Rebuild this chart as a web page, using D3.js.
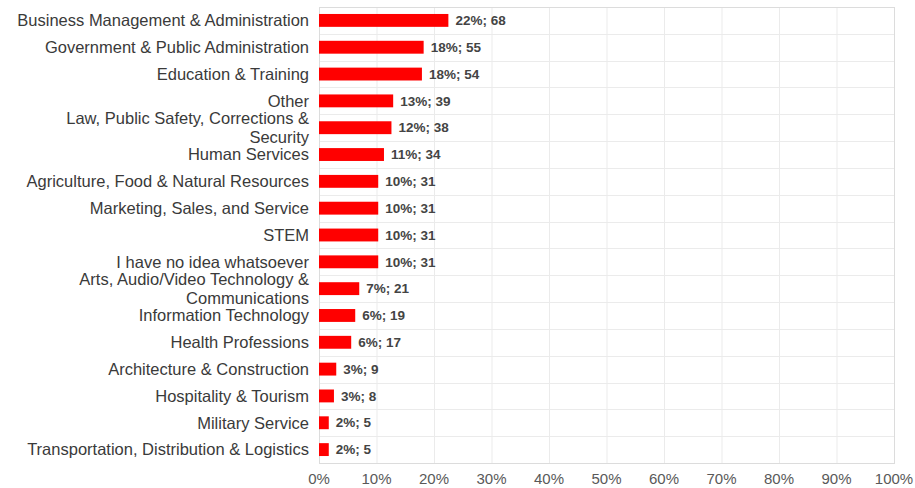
<!DOCTYPE html>
<html>
<head>
<meta charset="utf-8">
<script src="https://cdn.jsdelivr.net/npm/d3@7"></script>
<style>
  body { margin: 0; background: #fff; }
  svg { display: block; font-family: "Liberation Sans", Arial, sans-serif; }
</style>
</head>
<body>
<svg id="chart" width="915" height="488"></svg>
<script>
// categories, top to bottom
var categories = [
  "Business Management & Administration",
  "Government & Public Administration",
  "Education & Training",
  "Other",
  "Law, Public Safety, Corrections & Security",
  "Human Services",
  "Agriculture, Food & Natural Resources",
  "Marketing, Sales, and Service",
  "STEM",
  "I have no idea whatsoever",
  "Arts, Audio/Video Technology & Communications",
  "Information Technology",
  "Health Professions",
  "Architecture & Construction",
  "Hospitality & Tourism",
  "Military Service",
  "Transportation, Distribution & Logistics"
];
// share of respondents (bar length, %)
var shares = [22.5, 18.2, 17.9, 12.9, 12.6, 11.3, 10.3, 10.3, 10.3, 10.3, 7.0, 6.3, 5.6, 3.0, 2.6, 1.7, 1.7];
// labels as printed
var pctLabels = [22, 18, 18, 13, 12, 11, 10, 10, 10, 10, 7, 6, 6, 3, 3, 2, 2];
var counts = [68, 55, 54, 39, 38, 34, 31, 31, 31, 31, 21, 19, 17, 9, 8, 5, 5];
var xTicks = [0, 10, 20, 30, 40, 50, 60, 70, 80, 90, 100];

var svg = d3.select("#chart"),
    margin = {top: 7, left: 319},
    width = 575,
    height = 456;

var x = d3.scaleLinear().domain([0, 100]).range([0, width]);
var y = d3.scaleBand().domain(categories).range([0, height]).paddingInner(0.52).paddingOuter(0.26);
var rowH = height / categories.length;

var g = svg.append("g")
    .attr("transform", "translate(" + margin.left + "," + margin.top + ")");

// grid
g.selectAll(".vgrid")
  .data(xTicks)
  .enter().append("line")
    .attr("x1", function(d) { return x(d) + 0.5; })
    .attr("x2", function(d) { return x(d) + 0.5; })
    .attr("y1", 0)
    .attr("y2", height)
    .attr("stroke", "#ebebeb");

g.selectAll(".hgrid")
  .data(d3.range(1, categories.length))
  .enter().append("line")
    .attr("x1", 0)
    .attr("x2", width)
    .attr("y1", function(i) { return Math.round(i * rowH) + 0.5; })
    .attr("y2", function(i) { return Math.round(i * rowH) + 0.5; })
    .attr("stroke", "#ebebeb");

g.append("rect")
    .attr("x", 0.5)
    .attr("y", 0.5)
    .attr("width", width)
    .attr("height", height)
    .attr("fill", "none")
    .attr("stroke", "#dcdcdc");

// bars
g.selectAll(".bar")
  .data(shares)
  .enter().append("rect")
    .attr("class", "bar")
    .attr("x", x(0))
    .attr("y", function(d, i) { return y(categories[i]); })
    .attr("width", function(d) { return x(d) - x(0); })
    .attr("height", y.bandwidth())
    .attr("fill", "#ff0000");

// value labels
g.selectAll(".val")
  .data(shares)
  .enter().append("text")
    .attr("x", function(d) { return x(d) + 7; })
    .attr("y", function(d, i) { return y(categories[i]) + y.bandwidth() / 2; })
    .attr("dy", "0.35em")
    .attr("font-size", "13.5px")
    .attr("font-weight", "bold")
    .attr("fill", "#444")
    .text(function(d, i) { return pctLabels[i] + "%; " + counts[i]; });

// category labels, wrapped when too long
var maxW = 298;
var labels = g.selectAll(".cat")
  .data(categories)
  .enter().append("text")
    .attr("text-anchor", "end")
    .attr("font-size", "16.5px")
    .attr("fill", "#3a3a3a");

labels.each(function(d) {
  var t = d3.select(this),
      words = d.split(" "),
      lines = [],
      line = [];
  var probe = t.append("tspan");
  words.forEach(function(w) {
    line.push(w);
    probe.text(line.join(" "));
    if (probe.node().getComputedTextLength() > maxW && line.length > 1) {
      line.pop();
      lines.push(line.join(" "));
      line = [w];
    }
  });
  lines.push(line.join(" "));
  probe.remove();
  var lh = 19.5;
  var cy = y(d) + y.bandwidth() / 2 - (lines.length - 1) * lh / 2;
  lines.forEach(function(l, k) {
    t.append("tspan")
      .attr("x", -10)
      .attr("y", cy + k * lh)
      .attr("dy", "0.35em")
      .text(l);
  });
});

// x axis labels
g.selectAll(".tick-label")
  .data(xTicks)
  .enter().append("text")
    .attr("x", function(d) { return x(d); })
    .attr("y", height + 21)
    .attr("text-anchor", "middle")
    .attr("font-size", "15px")
    .attr("fill", "#595959")
    .text(function(d) { return d + "%"; });
</script>
</body>
</html>
